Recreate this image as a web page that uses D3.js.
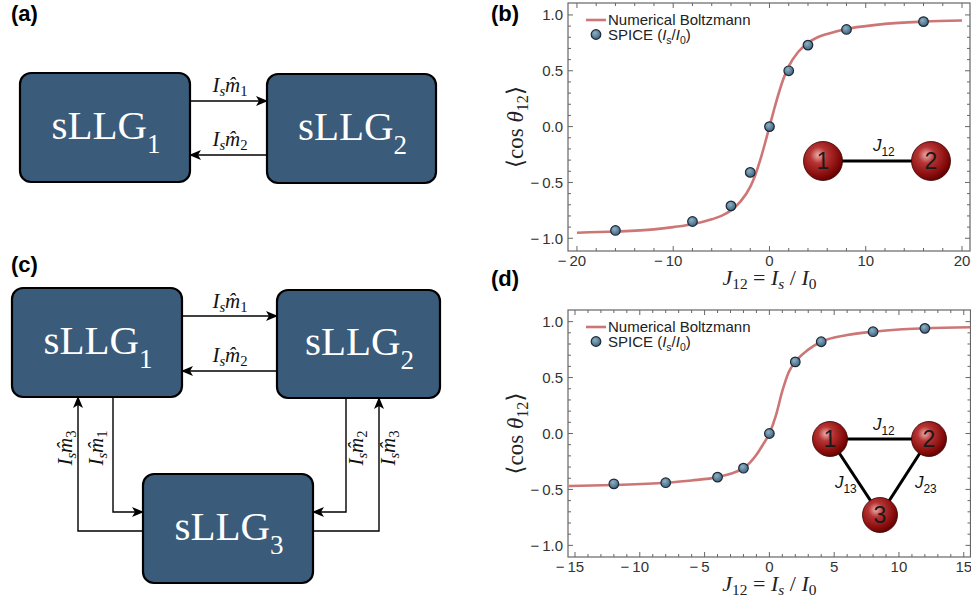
<!DOCTYPE html>
<meta charset="utf-8">
<style>
body { margin: 0; background: #fff; }
svg { display: block; }
.panel-tag { font-family: "Liberation Sans", Arial, sans-serif; font-weight: bold; font-size: 22px; }
.tick-label { font-family: "Liberation Sans", Arial, sans-serif; font-size: 15px; fill: #333; }
.legend { font-family: "Liberation Sans", Arial, sans-serif; font-size: 15px; fill: #222; }
.math { font-family: "Liberation Serif", "DejaVu Serif", serif; }
</style>
<svg width="971" height="598"></svg>
<script src="https://d3js.org/d3.v7.min.js"></script>
<script>

// ---------- data ----------
// panel (b): two coupled sLLGs
var bSpiceX = [-16, -8, -4, -2, 0, 2, 4, 8, 16];
var bSpiceY = [-0.93, -0.85, -0.71, -0.41, 0.0, 0.50, 0.73, 0.87, 0.94];
var bCurveX = [-20, -16, -12, -10, -8, -6, -5, -4, -3, -2, -1.5, -1, -0.5, 0, 0.5, 1, 1.5, 2, 3, 4, 5, 6, 8, 10, 12, 16, 20];
var bCurveY = [-0.95, -0.94, -0.92, -0.90, -0.875, -0.83, -0.80, -0.75, -0.67, -0.54, -0.44, -0.31, -0.16, 0.0, 0.16, 0.31, 0.44, 0.54, 0.67, 0.75, 0.80, 0.83, 0.875, 0.90, 0.92, 0.94, 0.95];

// panel (d): three coupled sLLGs
var dSpiceX = [-12, -8, -4, -2, 0, 2, 4, 8, 12];
var dSpiceY = [-0.45, -0.44, -0.39, -0.31, 0.0, 0.64, 0.82, 0.91, 0.94];
var dCurveX = [-15.5, -12, -8, -6, -4, -3, -2, -1.5, -1, -0.5, 0, 0.5, 1, 1.5, 2, 3, 4, 6, 8, 10, 12, 15.5];
var dCurveY = [-0.47, -0.46, -0.44, -0.42, -0.39, -0.36, -0.31, -0.26, -0.19, -0.10, 0.0, 0.16, 0.38, 0.55, 0.64, 0.75, 0.82, 0.88, 0.91, 0.93, 0.94, 0.95];

var bXTicks = [-20, -10, 0, 10, 20];
var dXTicks = [-15, -10, -5, 0, 5, 10, 15];
var yTicks = [-1.0, -0.5, 0.0, 0.5, 1.0];

var BOX_FILL = "#3a5b79";
var CURVE = "#cc7676";

var svg = d3.select("svg");
var defs = svg.append("defs");

defs.append("marker")
    .attr("id", "arrow")
    .attr("viewBox", "0 0 12 10")
    .attr("refX", 11).attr("refY", 5)
    .attr("markerWidth", 12).attr("markerHeight", 10)
    .attr("markerUnits", "userSpaceOnUse")
    .attr("orient", "auto")
  .append("path")
    .attr("d", "M0,0 L12,5 L0,10 L3,5 Z")
    .attr("fill", "#000");

var grad = defs.append("radialGradient")
    .attr("id", "ball")
    .attr("cx", "38%").attr("cy", "35%").attr("r", "70%");
grad.append("stop").attr("offset", "0%").attr("stop-color", "#eeb0b0");
grad.append("stop").attr("offset", "30%").attr("stop-color", "#b63434");
grad.append("stop").attr("offset", "75%").attr("stop-color", "#880c0c");
grad.append("stop").attr("offset", "100%").attr("stop-color", "#5a0000");

var dotGrad = defs.append("radialGradient")
    .attr("id", "dot")
    .attr("cx", "40%").attr("cy", "35%").attr("r", "65%");
dotGrad.append("stop").attr("offset", "0%").attr("stop-color", "#8fb0c6");
dotGrad.append("stop").attr("offset", "100%").attr("stop-color", "#3f6580");

// rich text: parts = [{t, i (italic), sub}]
function rich(text, parts, size, drop) {
  var down = 0;
  drop = drop || 0.28;
  parts.forEach(function(p) {
    var ts = text.append("tspan").text(p.t);
    if (p.i) ts.attr("font-style", "italic");
    var want = p.sub ? size * drop : 0;
    if (want !== down) { ts.attr("dy", want - down); down = want; }
    ts.attr("font-size", p.sub ? size * 0.7 : size);
  });
  return text;
}

/************* PANEL TAGS ***************/
[["(a)", 11, 21], ["(c)", 11, 272], ["(b)", 491, 21], ["(d)", 491, 286]].forEach(function(t) {
  svg.append("text").attr("class", "panel-tag").attr("x", t[1]).attr("y", t[2]).text(t[0]);
});

/************* BLOCK DIAGRAMS ***************/
function box(b, idx) {
  svg.append("rect")
      .attr("x", b.x).attr("y", b.y).attr("width", b.w).attr("height", b.h)
      .attr("rx", 11).attr("ry", 11)
      .attr("fill", BOX_FILL).attr("stroke", "#000").attr("stroke-width", 2.2);
  var t = svg.append("text").attr("class", "math")
      .attr("x", b.x + b.w / 2 + 1).attr("y", b.y + b.h / 2 + 11)
      .attr("text-anchor", "middle").attr("fill", "#fff");
  t.append("tspan").attr("font-size", 41).text("sLLG");
  t.append("tspan").attr("font-size", 27).attr("dy", 14).text(idx);
}

function wire(d) {
  svg.append("path").attr("d", d)
      .attr("fill", "none").attr("stroke", "#000").attr("stroke-width", 1.4)
      .attr("marker-end", "url(#arrow)");
}

function mlabel(x, y, k, rot) {
  var t = svg.append("text").attr("class", "math")
      .attr("text-anchor", "middle").attr("fill", "#111");
  if (rot) t.attr("transform", "translate(" + x + "," + y + ") rotate(-90)");
  else t.attr("x", x).attr("y", y);
  rich(t, [{t: "I", i: true}, {t: "s", i: true, sub: true}, {t: "m\u0302", i: true}, {t: String(k), sub: true}], 21, 0.2);
}

// (a)
var a1 = {x: 20, y: 73, w: 170, h: 109}, a2 = {x: 267, y: 74, w: 169, h: 109};
box(a1, "1"); box(a2, "2");
wire("M" + (a1.x + a1.w) + ",101 H" + a2.x);
wire("M" + a2.x + ",155 H" + (a1.x + a1.w));
mlabel(230, 92, 1); mlabel(230, 146, 2);

// (c)
var c1 = {x: 12, y: 288, w: 170, h: 109}, c2 = {x: 277, y: 290, w: 163, h: 108}, c3 = {x: 143, y: 474, w: 170, h: 109};
box(c1, "1"); box(c2, "2"); box(c3, "3");
wire("M" + (c1.x + c1.w) + ",316 H" + c2.x);
wire("M" + c2.x + ",371 H" + (c1.x + c1.w));
wire("M" + c3.x + ",531 H78 V" + (c1.y + c1.h));
wire("M113," + (c1.y + c1.h) + " V512 H" + c3.x);
wire("M346," + (c2.y + c2.h) + " V512 H" + (c3.x + c3.w));
wire("M" + (c3.x + c3.w) + ",531 H379 V" + (c2.y + c2.h));
mlabel(230, 308, 1); mlabel(230, 362, 2);
mlabel(72, 448, 3, true); mlabel(103, 448, 1, true);
mlabel(363, 448, 2, true); mlabel(395, 448, 3, true);

/************* PLOTS ***************/
function plot(o) {
  var x = d3.scaleLinear().domain(o.xDom).range([o.left, o.right]);
  var y = d3.scaleLinear().domain(o.yDom).range([o.bottom, o.top]);
  var g = svg.append("g");

  var clipId = "clip" + o.id;
  defs.append("clipPath").attr("id", clipId).append("rect")
      .attr("x", o.left).attr("y", o.top)
      .attr("width", o.right - o.left).attr("height", o.bottom - o.top);

  // frame
  g.append("rect")
      .attr("x", o.left).attr("y", o.top)
      .attr("width", o.right - o.left).attr("height", o.bottom - o.top)
      .attr("fill", "none").attr("stroke", "#666").attr("stroke-width", 1.2);

  // ticks on all four sides, pointing inward
  var xMinor = d3.range(o.xTicks[0], o.xTicks[o.xTicks.length - 1] + 0.001, o.xMinorStep);
  var yMinor = d3.range(-1.0, 1.0001, 0.1);
  xMinor.forEach(function(v) {
    var major = o.xTicks.some(function(t) { return Math.abs(t - v) < 1e-6; });
    var len = major ? 5 : 3;
    g.append("line").attr("x1", x(v)).attr("x2", x(v)).attr("y1", o.bottom).attr("y2", o.bottom - len)
        .attr("stroke", "#666").attr("stroke-width", 1);
    g.append("line").attr("x1", x(v)).attr("x2", x(v)).attr("y1", o.top).attr("y2", o.top + len)
        .attr("stroke", "#666").attr("stroke-width", 1);
  });
  yMinor.forEach(function(v) {
    var major = yTicks.some(function(t) { return Math.abs(t - v) < 1e-6; });
    var len = major ? 5 : 3;
    g.append("line").attr("y1", y(v)).attr("y2", y(v)).attr("x1", o.left).attr("x2", o.left + len)
        .attr("stroke", "#666").attr("stroke-width", 1);
    g.append("line").attr("y1", y(v)).attr("y2", y(v)).attr("x1", o.right).attr("x2", o.right - len)
        .attr("stroke", "#666").attr("stroke-width", 1);
  });

  function fmt(v, digits) {
    var s = Math.abs(v).toFixed(digits);
    return v < 0 ? "\u2212\u2009" + s : s;
  }

  g.selectAll(".xl").data(o.xTicks).enter().append("text")
      .attr("class", "tick-label").attr("text-anchor", "middle")
      .attr("x", function(d) { return x(d) - (d < 0 ? 5 : 0); }).attr("y", o.bottom + 15)
      .text(function(d) { return fmt(d, 0); });
  g.selectAll(".yl").data(yTicks).enter().append("text")
      .attr("class", "tick-label").attr("text-anchor", "end")
      .attr("x", o.left - 5).attr("y", function(d) { return y(d); }).attr("dy", "0.36em")
      .text(function(d) { return fmt(d, 1); });

  // axis labels
  var xl = g.append("text").attr("class", "math").attr("text-anchor", "middle")
      .attr("x", x(0)).attr("y", o.bottom + 34).attr("fill", "#222");
  rich(xl, [{t: "J", i: true}, {t: "12", sub: true}, {t: " = "}, {t: "I", i: true}, {t: "s", i: true, sub: true},
            {t: " / "}, {t: "I", i: true}, {t: "0", sub: true}], 22, 0.18);
  var yl = g.append("text").attr("class", "math").attr("text-anchor", "middle")
      .attr("transform", "translate(" + (o.left - 45) + "," + ((o.top + o.bottom) / 2) + ") rotate(-90)")
      .attr("fill", "#222");
  rich(yl, [{t: "\u27E8cos "}, {t: "\u03B8", i: true}, {t: "12", sub: true}, {t: "\u27E9"}], 23, 0.22);

  // curve
  var pts = o.cx.map(function(v, i) { return [v, o.cy[i]]; });
  g.append("path").datum(pts)
      .attr("clip-path", "url(#" + clipId + ")")
      .attr("d", d3.line().x(function(d) { return x(d[0]); }).y(function(d) { return y(d[1]); })
          .curve(d3.curveMonotoneX))
      .attr("fill", "none").attr("stroke", CURVE).attr("stroke-width", 2.6);

  // SPICE points
  g.selectAll(".pt").data(o.sx.map(function(v, i) { return [v, o.sy[i]]; })).enter().append("circle")
      .attr("cx", function(d) { return x(d[0]); }).attr("cy", function(d) { return y(d[1]); })
      .attr("r", 4.8).attr("fill", "url(#dot)").attr("stroke", "#1b2a35").attr("stroke-width", 1.2);

  // legend
  var lx = o.left + 18, ly = o.top + 17;
  g.append("line").attr("x1", lx).attr("x2", lx + 20).attr("y1", ly).attr("y2", ly)
      .attr("stroke", CURVE).attr("stroke-width", 2.6);
  g.append("text").attr("class", "legend").attr("x", lx + 22).attr("y", ly + 5).text("Numerical Boltzmann");
  g.append("circle").attr("cx", lx + 10).attr("cy", ly + 14.5).attr("r", 4.8)
      .attr("fill", "url(#dot)").attr("stroke", "#1b2a35").attr("stroke-width", 1.2);
  var lt = g.append("text").attr("class", "legend").attr("x", lx + 22).attr("y", ly + 20);
  rich(lt, [{t: "SPICE ("}, {t: "I", i: true}, {t: "s", sub: true}, {t: "/"}, {t: "I", i: true}, {t: "0", sub: true}, {t: ")"}], 15);

  return {x: x, y: y};
}

plot({id: "b", left: 568, right: 970, top: 3, bottom: 251,
      xDom: [-20.93, 20.83], yDom: [-1.114, 1.107], xTicks: bXTicks, xMinorStep: 2,
      cx: bCurveX, cy: bCurveY, sx: bSpiceX, sy: bSpiceY});
plot({id: "d", left: 568, right: 970.5, top: 310, bottom: 557,
      xDom: [-15.54, 15.52], yDom: [-1.104, 1.104], xTicks: dXTicks, xMinorStep: 1,
      cx: dCurveX, cy: dCurveY, sx: dSpiceX, sy: dSpiceY});

/************* SPIN NETWORKS ***************/
function network(nodes, edges, labels, r) {
  edges.forEach(function(e) {
    svg.append("line")
        .attr("x1", nodes[e[0]].x).attr("y1", nodes[e[0]].y)
        .attr("x2", nodes[e[1]].x).attr("y2", nodes[e[1]].y)
        .attr("stroke", "#000").attr("stroke-width", 3);
  });
  nodes.forEach(function(n, i) {
    svg.append("circle").attr("cx", n.x).attr("cy", n.y).attr("r", r)
        .attr("fill", "url(#ball)").attr("stroke", "#3a0000").attr("stroke-width", 0.8);
    svg.append("text").attr("x", n.x).attr("y", n.y).attr("dy", "0.36em")
        .attr("text-anchor", "middle").attr("fill", "#1a1a1a")
        .style("font-family", "'Liberation Sans', Arial, sans-serif").style("font-size", "23px")
        .text(i + 1);
  });
  labels.forEach(function(l) {
    var t = svg.append("text").attr("x", l.x).attr("y", l.y).attr("fill", "#111")
        .style("font-family", "'Liberation Sans', Arial, sans-serif");
    rich(t, [{t: "J", i: true}, {t: l.k, sub: true}], 17);
  });
}

network([{x: 823, y: 161}, {x: 931, y: 161}], [[0, 1]], [{x: 873, y: 151, k: "12"}], 19.5);
network([{x: 830, y: 439}, {x: 929, y: 439}, {x: 880, y: 515}], [[0, 1], [0, 2], [1, 2]],
        [{x: 873, y: 430, k: "12"}, {x: 835, y: 488, k: "13"}, {x: 915, y: 488, k: "23"}], 17.5);

</script>
